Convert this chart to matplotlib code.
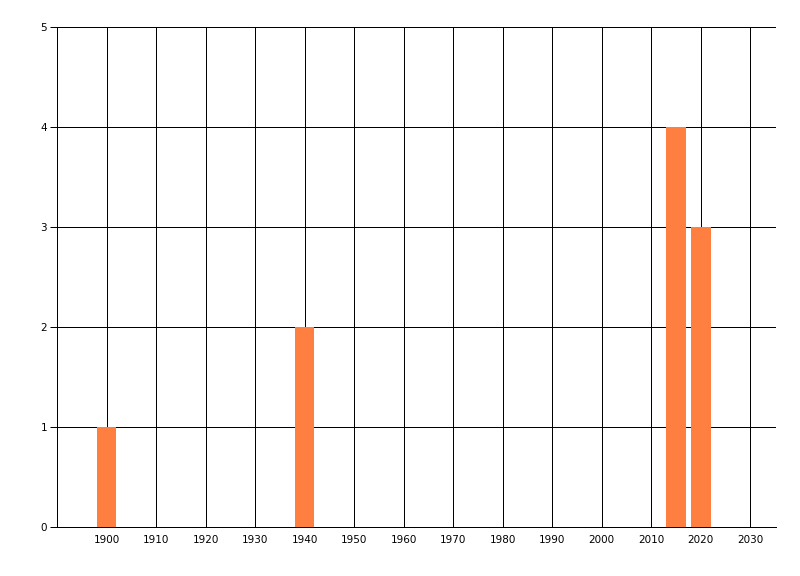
import matplotlib.pyplot as plt

# datos del grafico
years = [1900, 1940, 2015, 2020]
counts = [1, 2, 4, 3]
x_ticks = list(range(1900, 2031, 10))
y_ticks = [0, 1, 2, 3, 4, 5]

fig = plt.figure(figsize=(8, 5.76), dpi=100)
ax = fig.add_axes([57 / 800, 49 / 576, 718.5 / 800, 500 / 576])

ax.bar(years, counts, width=4, color='#FF7F40', zorder=3)

ax.set_xlim(1890, 2035.1)
ax.set_ylim(0, 5)
ax.set_xticks(x_ticks)
ax.set_yticks(y_ticks)

# rejilla negra, 1 px
ax.grid(True, color='black', linewidth=0.72)
ax.set_axisbelow(True)

for side in ['top', 'right']:
    ax.spines[side].set_visible(False)
for side in ['left', 'bottom']:
    ax.spines[side].set_linewidth(0.72)
    ax.spines[side].set_zorder(4)

ax.tick_params(axis='x', length=0, pad=6, labelsize=7.5)
ax.tick_params(axis='y', length=5, width=0.72, pad=2, labelsize=7.5)

plt.savefig('out.png', dpi=100)
